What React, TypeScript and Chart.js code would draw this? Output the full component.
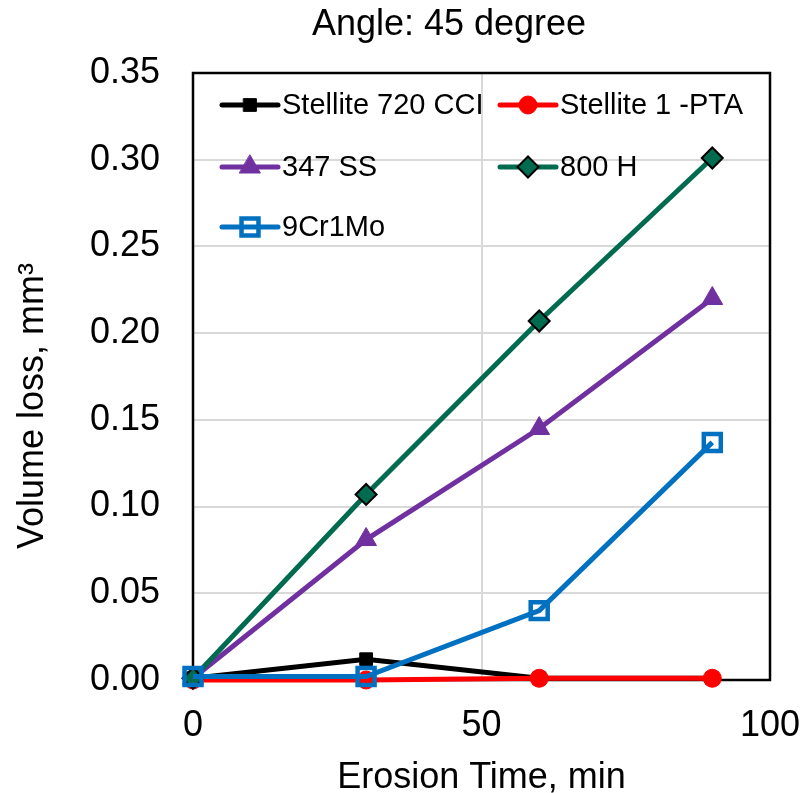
import React, { useEffect, useRef } from 'react';
import { Chart, registerables } from 'chart.js';
import { drawPoint } from 'chart.js/helpers';

Chart.register(...registerables);

const TITLE = 'Angle: 45 degree';
const X_TITLE = 'Erosion Time, min';
const Y_TITLE = 'Volume loss, mm³';

const TIMES = [0, 30, 60, 90];
const X_TICKS = [0, 50, 100];
const Y_TICKS = [0, 0.05, 0.1, 0.15, 0.2, 0.25, 0.3, 0.35];

const SERIES_NAMES = ['Stellite 720 CCI', 'Stellite 1 -PTA', '347 SS', '800 H', '9Cr1Mo'];
const STELLITE_720_CCI = [0.001, 0.012, 0.001, 0.001];
const STELLITE_1_PTA = [0, 0, 0.001, 0.001];
const SS_347 = [0.001, 0.081, 0.145, 0.22];
const H_800 = [0.001, 0.107, 0.207, 0.301];
const CR9_MO1 = [0.002, 0.002, 0.04, 0.137];

const FONT = '"Liberation Sans", Arial, sans-serif';

type Style = {
  color: string;
  pointStyle: string;
  radius: number;
  fill: string;
  border: string;
  borderWidth: number;
};

const STYLES: Style[] = [
  { color: '#000000', pointStyle: 'rect', radius: 9, fill: '#000000', border: '#000000', borderWidth: 1 },
  { color: '#FF0000', pointStyle: 'circle', radius: 9, fill: '#FF0000', border: '#FF0000', borderWidth: 1 },
  { color: '#7030A0', pointStyle: 'triangle', radius: 12, fill: '#7030A0', border: '#7030A0', borderWidth: 1 },
  { color: '#006B4F', pointStyle: 'rectRot', radius: 10.5, fill: '#006B4F', border: '#000000', borderWidth: 2 },
  { color: '#0070C0', pointStyle: 'rect', radius: 12, fill: 'rgba(0,0,0,0)', border: '#0070C0', borderWidth: 4.5 },
];

const SERIES = [STELLITE_720_CCI, STELLITE_1_PTA, SS_347, H_800, CR9_MO1];

const LEGEND_COLS = [222, 500];
const LEGEND_ROWS = [105, 167, 227];

const decorPlugin = {
  id: 'decor',
  beforeDatasetsDraw(chart: any) {
    const { ctx, chartArea: a } = chart;
    ctx.save();
    ctx.strokeStyle = '#000000';
    ctx.lineWidth = 2.5;
    ctx.strokeRect(a.left, a.top, a.right - a.left, a.bottom - a.top);
    ctx.restore();
  },
  afterDraw(chart: any) {
    const { ctx, chartArea: a } = chart;
    ctx.save();
    ctx.fillStyle = '#000000';
    ctx.font = `36px ${FONT}`;
    ctx.textAlign = 'center';
    ctx.textBaseline = 'alphabetic';
    ctx.fillText(TITLE, 449, 35);
    ctx.fillText(X_TITLE, (a.left + a.right) / 2, 788);
    ctx.save();
    ctx.translate(43, 406);
    ctx.rotate(-Math.PI / 2);
    ctx.textAlign = 'center';
    ctx.textBaseline = 'alphabetic';
    ctx.fillText(Y_TITLE, 0, 0);
    ctx.restore();

    ctx.font = `29px ${FONT}`;
    ctx.textAlign = 'left';
    ctx.textBaseline = 'middle';
    SERIES_NAMES.forEach((name, i) => {
      const st = STYLES[i];
      const x0 = LEGEND_COLS[i % 2];
      const y = LEGEND_ROWS[Math.floor(i / 2)];
      ctx.save();
      ctx.strokeStyle = st.color;
      ctx.lineWidth = 5;
      ctx.lineCap = 'round';
      ctx.beginPath();
      ctx.moveTo(x0, y);
      ctx.lineTo(x0 + 56, y);
      ctx.stroke();
      ctx.fillStyle = st.fill;
      ctx.strokeStyle = st.border;
      ctx.lineWidth = st.borderWidth;
      drawPoint(ctx, { pointStyle: st.pointStyle as any, radius: st.radius, rotation: 0, borderWidth: st.borderWidth }, x0 + 28, y);
      ctx.restore();
      ctx.fillStyle = '#000000';
      ctx.fillText(name, x0 + 60, y + 1);
    });
    ctx.restore();
  },
};

export default function App() {
  const ref = useRef<HTMLCanvasElement | null>(null);

  useEffect(() => {
    document.body.style.margin = '0';
    const canvas = ref.current;
    if (!canvas) return;
    const datasets = SERIES.map((vals, i) => {
      const st = STYLES[i];
      return {
        label: SERIES_NAMES[i],
        data: TIMES.map((t, k) => ({ x: t, y: vals[k] })),
        borderColor: st.color,
        backgroundColor: st.fill,
        borderWidth: 5,
        pointStyle: st.pointStyle,
        pointRadius: st.radius,
        pointHoverRadius: st.radius,
        pointBackgroundColor: st.fill,
        pointBorderColor: st.border,
        pointBorderWidth: st.borderWidth,
        tension: 0,
        clip: false,
        order: SERIES.length - 1 - i,
      };
    });
    const chart = new Chart(canvas, {
      type: 'line',
      data: { datasets: datasets as any },
      options: {
        animation: false,
        responsive: false,
        devicePixelRatio: 1,
        layout: { padding: { top: 73, right: 39, left: 0, bottom: 0 } },
        plugins: {
          legend: { display: false },
          title: { display: false },
          tooltip: { enabled: false },
        },
        scales: {
          x: {
            type: 'linear',
            min: 0,
            max: 100,
            afterBuildTicks: (axis: any) => {
              axis.ticks = X_TICKS.map((v) => ({ value: v }));
            },
            afterFit: (axis: any) => {
              axis.height = 113;
              axis.paddingLeft = 0;
              axis.paddingRight = 0;
            },
            grid: { color: '#D9D9D9', lineWidth: 2, drawTicks: false },
            border: { display: false },
            ticks: {
              color: '#000000',
              font: { size: 36, family: FONT },
              padding: 24,
              maxRotation: 0,
            },
          },
          y: {
            type: 'linear',
            min: 0,
            max: 0.35,
            afterBuildTicks: (axis: any) => {
              axis.ticks = Y_TICKS.map((v) => ({ value: v }));
            },
            afterFit: (axis: any) => {
              axis.width = 193;
              axis.paddingTop = 0;
              axis.paddingBottom = 0;
            },
            grid: { color: '#D9D9D9', lineWidth: 2, drawTicks: false },
            border: { display: false },
            ticks: {
              color: '#000000',
              font: { size: 36, family: FONT },
              padding: 33,
              callback: (v: any) => Number(v).toFixed(2),
            },
          },
        },
      },
      plugins: [decorPlugin],
    });
    return () => chart.destroy();
  }, []);

  return (
    <div style={{ width: 809, height: 793 }}>
      <canvas ref={ref} width={809} height={793} style={{ display: 'block' }} />
    </div>
  );
}
